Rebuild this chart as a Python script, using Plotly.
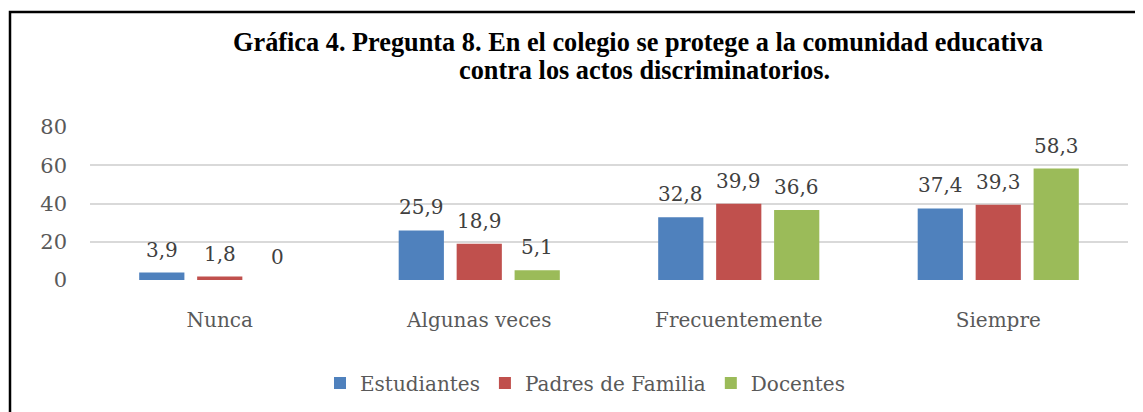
import plotly.graph_objects as go

categories = ["Nunca", "Algunas veces", "Frecuentemente", "Siempre"]
estudiantes = [3.9, 25.9, 32.8, 37.4]
padres = [1.8, 18.9, 39.9, 39.3]
docentes = [0, 5.1, 36.6, 58.3]
series_names = ["Estudiantes", "Padres de Familia", "Docentes"]
colors = ["#4F81BD", "#C0504D", "#9BBB59"]
y_ticks = [0, 20, 40, 60, 80]
title_lines = ["Gráfica 4. Pregunta 8. En el colegio se protege a la comunidad educativa",
               "contra los actos discriminatorios."]

def fmt(v):
    return ("%g" % v).replace(".", ",")

# page body has an 8px default margin; reference pixel p -> figure pixel p - OFF
OFF = 8
W, H = 1143, 412
plot_l, plot_r, plot_t, plot_b = 90, 1128, 127, 280  # reference pixels
ml = plot_l - OFF
mr = W - (plot_r - OFF)
mt = plot_t - OFF
mb = H - (plot_b - OFF)
pw = W - ml - mr
ph = H - mt - mb

def px_x(p):
    return (p - OFF - ml) / pw

def px_y(p):
    return (H - mb - (p - OFF)) / ph

BARGAP, GROUPGAP = 0.33, 0.22
SERIF = "DejaVu Serif"
all_series = [estudiantes, padres, docentes]
n_series = len(all_series)
cat_px = pw / len(categories)
slot_px = cat_px * (1 - BARGAP) / n_series

fig = go.Figure()
annotations = []
for si, (name, vals, col) in enumerate(zip(series_names, all_series, colors)):
    fig.add_trace(go.Bar(
        x=categories, y=vals, name=name, marker_color=col,
        marker_line_width=0, cliponaxis=False,
    ))
    shift = (si - (n_series - 1) / 2) * slot_px
    for cat, v in zip(categories, vals):
        annotations.append(dict(
            x=cat, y=v, xref="x", yref="y", text=fmt(v), showarrow=False,
            xanchor="center", yanchor="bottom", xshift=shift, yshift=9,
            font=dict(family=SERIF, size=20, color="#404040"),
        ))

for line, cx, cy in zip(title_lines, [638, 644], [43, 71]):
    annotations.append(dict(
        text="<b>%s</b>" % line, xref="paper", yref="paper",
        x=px_x(cx), y=px_y(cy), xanchor="center", yanchor="middle",
        showarrow=False,
        font=dict(family="Liberation Serif", size=26.3, color="#000000"),
    ))

fig.update_layout(
    width=W, height=H,
    margin=dict(l=ml, r=mr, t=mt, b=mb, autoexpand=False),
    paper_bgcolor="white", plot_bgcolor="white",
    barmode="group", bargap=BARGAP, bargroupgap=GROUPGAP,
    annotations=annotations,
    yaxis=dict(range=[0, 80], tickvals=y_ticks, showgrid=True, gridcolor="#D9D9D9",
               gridwidth=1.5, zeroline=False, showline=False,
               tickfont=dict(family=SERIF, size=21, color="#595959"),
               ticklabelstandoff=22, automargin=False),
    xaxis=dict(showline=False, showgrid=False, ticks="",
               tickfont=dict(family=SERIF, size=20, color="#595959"),
               ticklabelstandoff=26, automargin=False),
    legend=dict(orientation="h", x=px_x(585), xanchor="center", y=px_y(383), yanchor="middle",
                font=dict(family=SERIF, size=20, color="#595959"),
                itemwidth=30, traceorder="normal", bgcolor="rgba(0,0,0,0)"),
    showlegend=True,
    shapes=[dict(type="rect", xref="paper", yref="paper",
                 x0=px_x(10), x1=px_x(W + 30), y0=px_y(H + 30), y1=px_y(12),
                 line=dict(color="#000000", width=2.5), fillcolor="rgba(0,0,0,0)",
                 layer="above")],
)

fig.write_html("out.html")
